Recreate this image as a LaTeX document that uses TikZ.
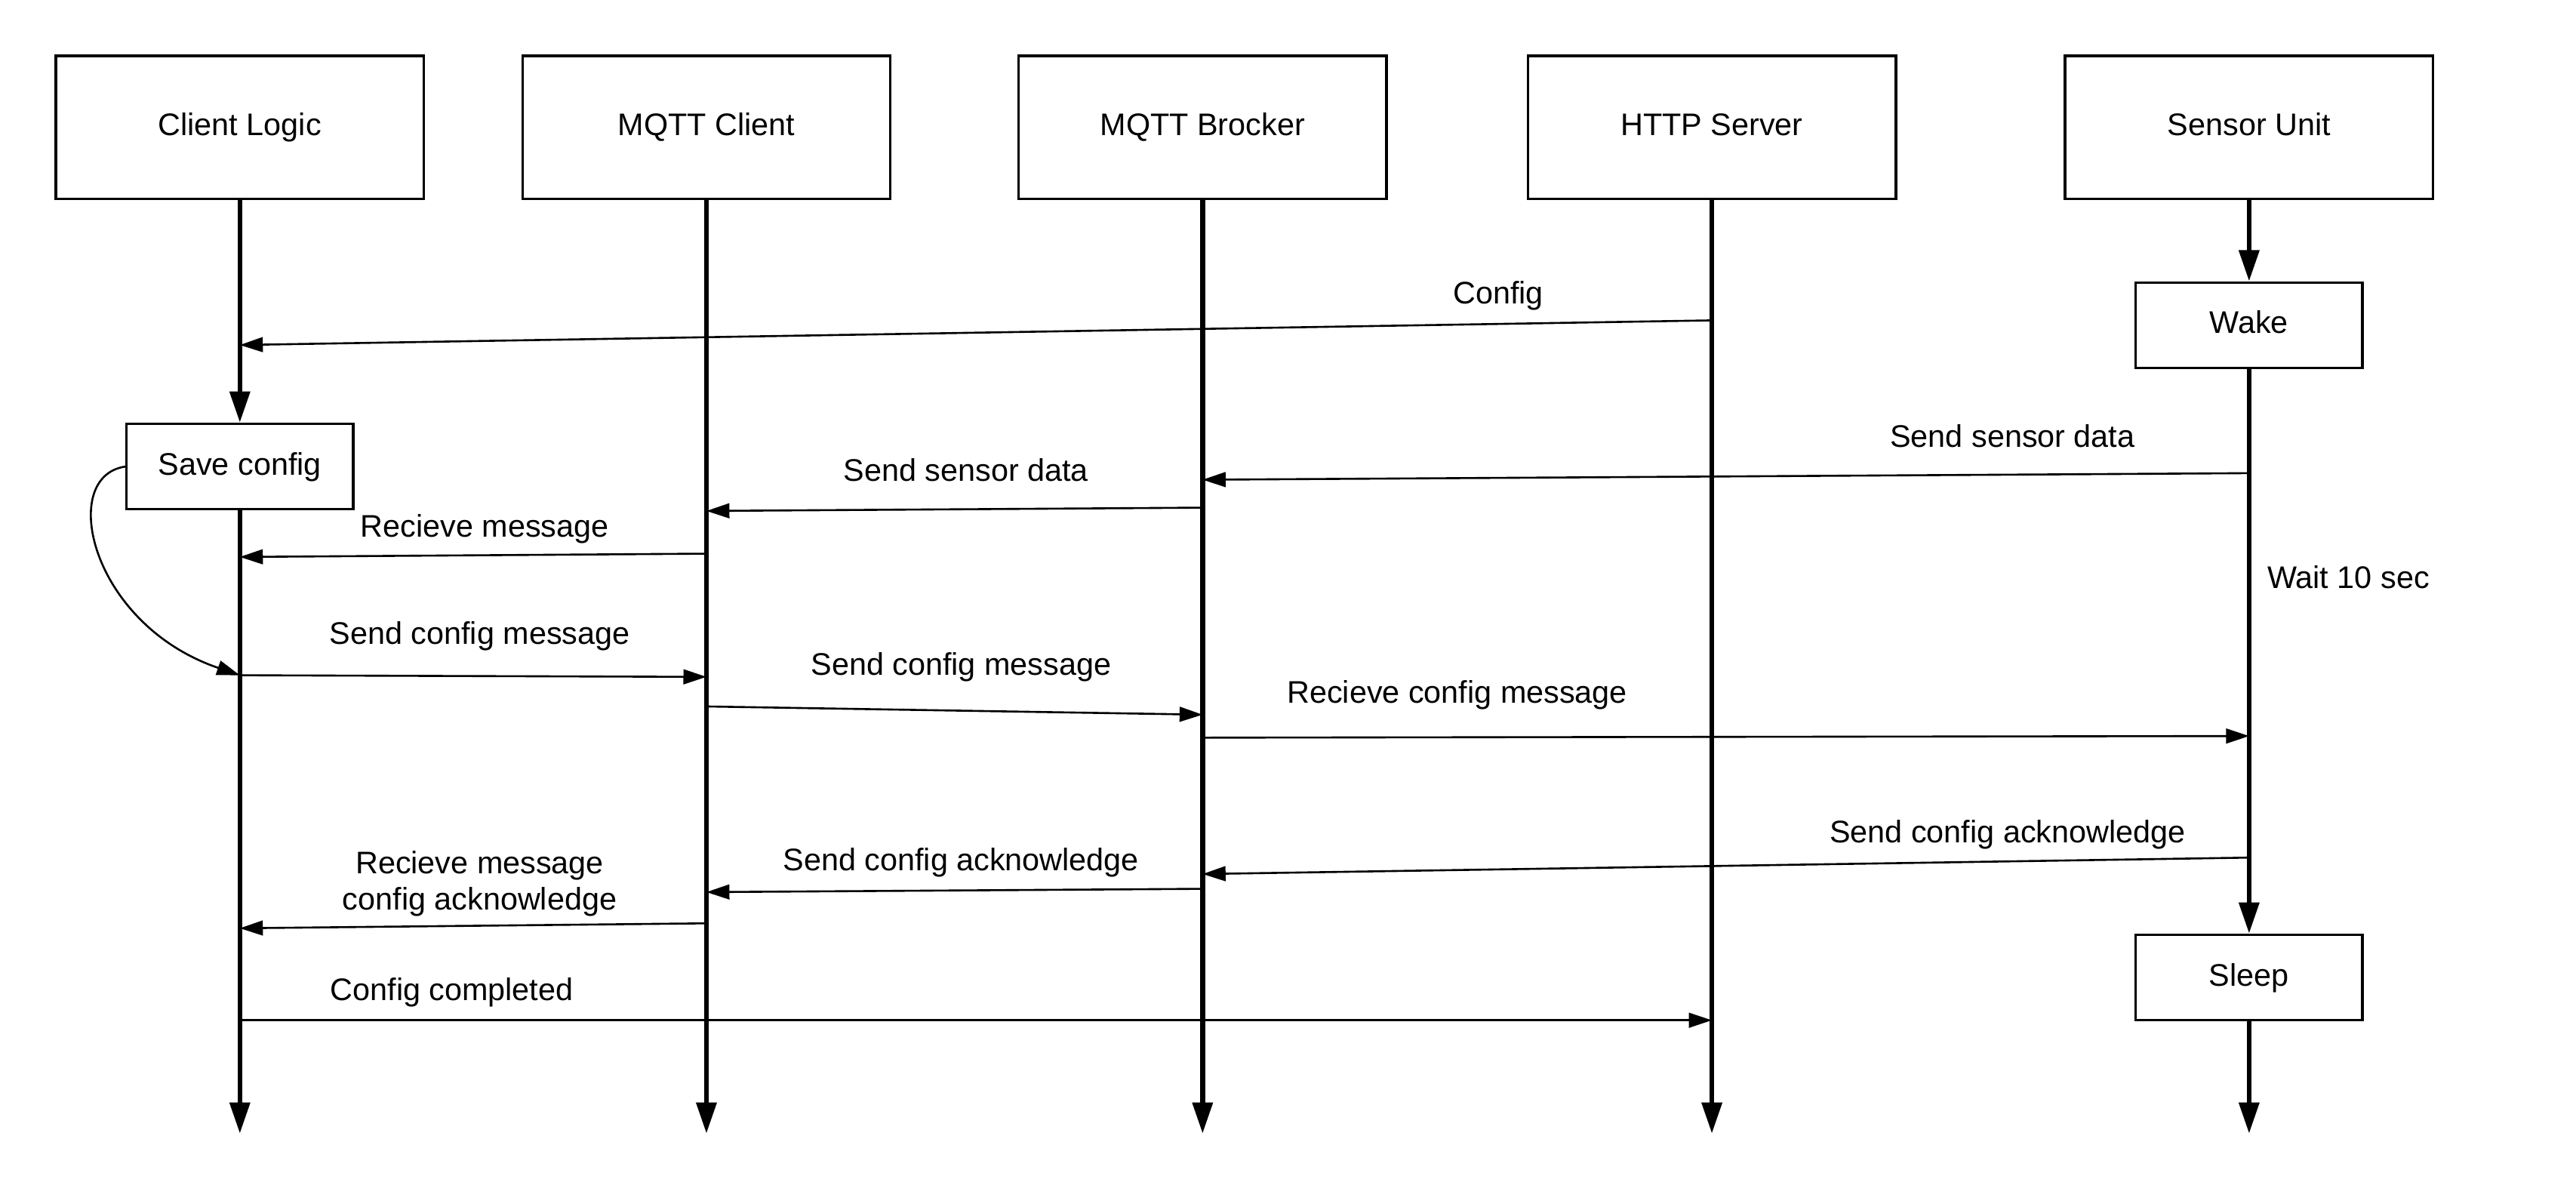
\documentclass[tikz,border=0pt]{standalone}
\usepackage{fontspec}
\setmainfont{Liberation Sans}
\usetikzlibrary{arrows.meta}
\begin{document}
\begin{tikzpicture}[x=1pt,y=-1pt,
  every node/.style={font=\fontsize{19}{23}\selectfont},
  fixedtext/.style={text height=14pt, text depth=4pt},
  actor/.style={draw, line width=1.5pt, minimum width=224pt, minimum height=87pt, inner sep=0pt, fixedtext},
  stbox/.style={draw, line width=1.5pt, minimum width=138pt, minimum height=52pt, inner sep=0pt, fixedtext},
  life/.style={line width=3pt, -{Triangle[length=19pt,width=12pt]}},
  msg/.style={line width=1.2pt, -{Triangle[length=14pt,width=9pt]}},
  lbl/.style={inner sep=0pt, fixedtext},
]
\useasboundingbox (0,0) rectangle (1568,719);

% participants
\node[actor] (cl) at (146,77.5)  {Client Logic};
\node[actor] (mc) at (430,77.5)  {MQTT Client};
\node[actor] (mb) at (732,77.5)  {MQTT Brocker};
\node[actor] (hs) at (1042,77.5) {HTTP Server};
\node[actor] (su) at (1369,77.5) {Sensor Unit};

% activity boxes
\node[stbox] (save)  at (146,284)  {Save config};
\node[stbox] (wake)  at (1369,198) {Wake};
\node[stbox] (sleep) at (1369,595) {Sleep};

% lifeline ends
\coordinate (clE) at (146,690);
\coordinate (mcE) at (430,690);
\coordinate (mbE) at (732,690);
\coordinate (hsE) at (1042,690);
\coordinate (suE) at (1369,690);

% lifelines
\draw[life] (cl.south) -- (save.north);
\draw[life] (save.south) -- (clE);
\draw[life] (mc.south) -- (mcE);
\draw[life] (mb.south) -- (mbE);
\draw[life] (hs.south) -- (hsE);
\draw[life] (su.south) -- (wake.north);
\draw[life] (wake.south) -- (sleep.north);
\draw[life] (sleep.south) -- (suE);

% message end points on the lifelines
\coordinate (hs1) at (1042,195);  \coordinate (cl1) at (146,210);
\coordinate (su2) at (1369,288);  \coordinate (mb2) at (732,292);
\coordinate (mb3) at (732,309);   \coordinate (mc3) at (430,311);
\coordinate (mc4) at (430,337);   \coordinate (cl4) at (146,339);
\coordinate (cl5) at (146,411);   \coordinate (mc5) at (430,412);
\coordinate (mc6) at (430,430);   \coordinate (mb6) at (732,435);
\coordinate (mb7) at (732,449);   \coordinate (su7) at (1369,448);
\coordinate (su8) at (1369,522);  \coordinate (mb8) at (732,532);
\coordinate (mb9) at (732,541);   \coordinate (mc9) at (430,543);
\coordinate (mc10) at (430,562);  \coordinate (cl10) at (146,565);
\coordinate (cl11) at (146,621);  \coordinate (hs11) at (1042,621);

% messages
\draw[msg] (hs1) -- (cl1);
\draw[msg] (su2) -- (mb2);
\draw[msg] (mb3) -- (mc3);
\draw[msg] (mc4) -- (cl4);
\draw[msg] (save.west) .. controls (35,290) and (55,380) .. (cl5);
\draw[msg] (cl5) -- (mc5);
\draw[msg] (mc6) -- (mb6);
\draw[msg] (mb7) -- (su7);
\draw[msg] (su8) -- (mb8);
\draw[msg] (mb9) -- (mc9);
\draw[msg] (mc10) -- (cl10);
\draw[msg] (cl11) -- (hs11);

% labels
\node[lbl] (t1)  at (912,180)  {Config};
\node[lbl] (t2)  at (1225,267) {Send sensor data};
\node[lbl] (t3)  at (588,288)  {Send sensor data};
\node[lbl] (t4)  at (295,322)  {Recieve message};
\node[lbl, anchor=west] (t5) at (1380,353) {Wait 10 sec};
\node[lbl] (t6)  at (292,387)  {Send config message};
\node[lbl] (t7)  at (585,406)  {Send config message};
\node[lbl] (t8)  at (887,423)  {Recieve config message};
\node[lbl] (t9)  at (1222,508) {Send config acknowledge};
\node[lbl] (t10) at (585,525)  {Send config acknowledge};
\node[inner sep=0pt, align=center, font=\fontsize{19}{22}\selectfont] (t11) at (292,538) {Recieve message\\config acknowledge};
\node[lbl] (t12) at (275,604)  {Config completed};
\end{tikzpicture}
\end{document}
